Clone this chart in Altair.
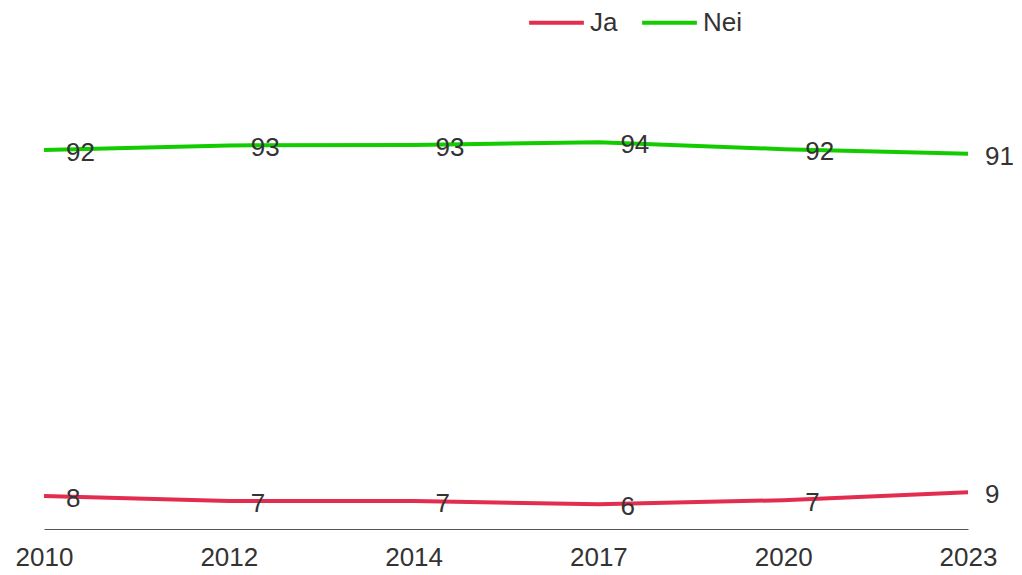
import altair as alt
import pandas as pd

years = ["2010", "2012", "2014", "2017", "2020", "2023"]
ja = [8.0, 6.8, 6.8, 6.0, 7.0, 8.9]
nei = [92.0, 93.1, 93.2, 93.9, 92.2, 91.1]
series = ["Ja", "Nei"]
colors = ["#E32D4F", "#12CC00"]

rows = []
for y, a, b in zip(years, ja, nei):
    rows.append({"year": y, "serie": "Ja", "value": a})
    rows.append({"year": y, "serie": "Nei", "value": b})
df = pd.DataFrame(rows)

FONT = "Liberation Sans"

x = alt.X("year:O", sort=years, title=None,
          scale=alt.Scale(type="point", padding=0),
          axis=alt.Axis(labelAngle=0, labelFontSize=26, labelColor="#333333",
                        labelFont=FONT, ticks=False, domainColor="#555555",
                        domainWidth=1, labelPadding=15, grid=False))
y = alt.Y("value:Q", title=None, axis=None,
          scale=alt.Scale(domain=[0, 100], nice=False, zero=True))
color = alt.Color("serie:N", sort=series, title=None,
                  scale=alt.Scale(domain=series, range=colors),
                  legend=alt.Legend(orient="none", legendX=483, legendY=-124,
                                    direction="horizontal", symbolType="stroke",
                                    symbolSize=3000, symbolStrokeWidth=4,
                                    labelFontSize=26, labelFont=FONT,
                                    labelColor="#333333", columnPadding=16,
                                    labelOffset=4))

last = years[-1]
base = alt.Chart(df)
lines = base.mark_line(strokeWidth=4).encode(x=x, y=y, color=color)
labels = base.transform_filter(alt.datum.year != last).mark_text(
    align="left", baseline="middle", dx=22, dy=3,
    fontSize=26, font=FONT, color="#333333").encode(
    x=x, y=y, text=alt.Text("value:Q", format=".0f"))
labels_last = base.transform_filter(alt.datum.year == last).mark_text(
    align="left", baseline="middle", dx=17, dy=3,
    fontSize=26, font=FONT, color="#333333").encode(
    x=x, y=y, text=alt.Text("value:Q", format=".0f"))

chart = (lines + labels + labels_last).properties(
    width=924, height=412,
    autosize=alt.AutoSizeParams(type="none"),
    padding={"left": 36, "top": 109, "right": 46, "bottom": 37},
).configure_view(stroke=None)

chart.save("out.html", embed_options={"renderer": "svg", "actions": False})
